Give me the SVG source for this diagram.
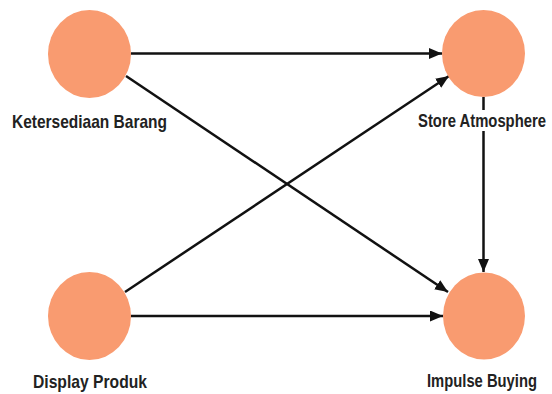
<svg xmlns="http://www.w3.org/2000/svg" width="552" height="394" viewBox="0 0 552 394">
<style>
.node{fill:#F99B70;}
.lbl{font-family:"Liberation Sans",Arial,sans-serif;font-weight:bold;font-size:17.5px;fill:#222;text-anchor:middle;}
.conn{stroke:#111;stroke-width:2.5;fill:none;marker-end:url(#arr);}
</style>
<defs>
<marker id="arr" viewBox="0 0 13 11" refX="13" refY="5.5" markerWidth="13" markerHeight="11" markerUnits="userSpaceOnUse" orient="auto">
<path d="M0,0 L13,5.5 L0,11 Z" fill="#111"/>
</marker>
</defs>
<rect width="552" height="394" fill="#fff"/>
<g id="connectors">
<line class="conn" x1="131" y1="53.5" x2="442" y2="53.5"/>
<line class="conn" x1="126" y1="76" x2="448" y2="292"/>
<line class="conn" x1="125" y1="292" x2="449" y2="76"/>
<line class="conn" x1="131" y1="316" x2="443" y2="316"/>
<line class="conn" x1="483.5" y1="97" x2="483.5" y2="272"/>
</g>
<g id="ketersediaan">
<ellipse class="node" cx="89.5" cy="54" rx="41.5" ry="44"/>
<g transform="translate(89.5,128) scale(0.886,1)">
<text class="lbl" x="0" y="0" textLength="175" lengthAdjust="spacingAndGlyphs">Ketersediaan Barang</text>
</g>
</g>
<g id="store">
<ellipse class="node" cx="483.5" cy="53.5" rx="41.5" ry="43.5"/>
<rect x="416" y="110" width="133" height="21" fill="#fff"/>
<g transform="translate(482,127) scale(0.844,1)">
<text class="lbl" x="0" y="0" textLength="151.7" lengthAdjust="spacingAndGlyphs">Store Atmosphere</text>
</g>
</g>
<g id="display">
<ellipse class="node" cx="89.5" cy="316" rx="41.5" ry="44"/>
<g transform="translate(90,388) scale(0.895,1)">
<text class="lbl" x="0" y="0" textLength="127.4" lengthAdjust="spacingAndGlyphs">Display Produk</text>
</g>
</g>
<g id="impulse">
<ellipse class="node" cx="484" cy="316" rx="41" ry="43.5"/>
<g transform="translate(482,387) scale(0.844,1)">
<text class="lbl" x="0" y="0" textLength="130.3" lengthAdjust="spacingAndGlyphs">Impulse Buying</text>
</g>
</g>
</svg>
